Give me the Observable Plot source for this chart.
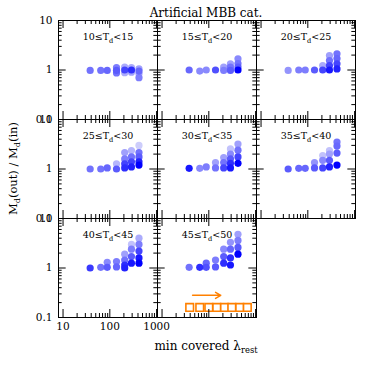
<!DOCTYPE html>
<html><head><meta charset="utf-8">
<script src="https://cdn.jsdelivr.net/npm/d3@7"></script>
<script src="https://cdn.jsdelivr.net/npm/@observablehq/plot@0.6"></script>
<style>body{margin:0;background:#fff} #chart{width:374px;height:374px}</style>
</head><body><div id="chart"></div>
<script>
// ---- data ----
const panelLabels = ["10≤T_d<15","15≤T_d<20","20≤T_d<25","25≤T_d<30","30≤T_d<35","35≤T_d<40","40≤T_d<45","45≤T_d<50"];
const columnLambda = [38, 64, 88, 139, 208, 290, 420];
// each point: [column index, Md(out)/Md(in), shade 0..1]
const panel1 = [[0,0.98,.5],[1,0.98,.5],[2,0.98,.55],[3,1.12,.45],[3,0.87,.5],[3,0.98,.6],[4,1.15,.25],[4,0.88,.25],[4,1.0,.7],[5,1.12,.25],[5,0.9,.3],[5,1.0,.8],[6,1.05,.3],[6,0.85,.3],[6,0.7,.45],[6,0.95,.55]];
const panel2 = [[0,1.0,.55],[1,0.95,.4],[2,1.0,.4],[3,1.0,.65],[4,1.14,.3],[4,0.98,.45],[5,1.33,.3],[5,1.14,.5],[5,0.98,.6],[6,1.68,.4],[6,1.35,.5],[6,1.15,.6],[6,1.0,1.0]];
const panel3 = [[0,0.98,.35],[1,1.0,.45],[2,1.0,.45],[3,1.0,.6],[4,1.23,.25],[4,1.0,.7],[5,1.96,.3],[5,1.55,.5],[5,1.23,.7],[5,1.0,.9],[6,2.12,.5],[6,1.7,.55],[6,1.33,.7],[6,1.05,.85]];
const panel4 = [[0,1.0,.5],[1,1.0,.5],[2,1.05,.55],[3,1.27,.2],[3,1.0,.6],[4,2.15,.3],[4,1.6,.45],[4,1.27,.7],[4,1.05,.8],[5,2.36,.2],[5,1.75,.5],[5,1.4,.7],[5,1.1,.85],[6,3.0,.1],[6,2.15,.5],[6,1.75,.6],[6,1.4,.85],[6,1.2,1.0]];
const panel5 = [[0,1.03,.9],[1,1.03,.4],[2,1.1,.45],[3,1.35,.3],[3,1.05,.5],[4,1.7,.3],[4,1.35,.5],[4,1.05,.7],[5,2.55,.15],[5,2.0,.4],[5,1.6,.6],[5,1.3,.8],[5,1.05,.9],[6,3.2,.3],[6,2.4,.5],[6,1.75,.7],[6,1.3,1.0]];
const panel6 = [[0,1.0,.6],[1,1.03,.55],[2,1.03,.55],[3,1.35,.35],[3,1.05,.6],[4,1.87,.15],[4,1.5,.4],[4,1.05,.7],[5,2.36,.15],[5,2.0,.3],[5,1.5,.6],[5,1.1,.85],[6,3.5,.5],[6,2.9,.55],[6,2.1,.6],[6,1.2,1.0]];
const panel7 = [[0,1.0,.75],[1,1.03,.5],[2,1.3,.4],[2,1.03,.6],[3,1.35,.45],[3,1.05,.55],[4,1.9,.3],[4,1.45,.5],[4,1.15,.8],[4,1.0,.85],[5,3.0,.15],[5,2.4,.45],[5,1.7,.6],[5,1.25,.9],[6,4.0,.25],[6,3.0,.45],[6,2.2,.7],[6,1.6,.9],[6,1.25,1.0]];
const panel8 = [[0,1.03,.5],[1,1.03,.8],[2,1.25,.55],[2,1.03,.65],[3,1.45,.45],[3,1.05,.6],[4,2.4,.4],[4,1.7,.6],[4,1.25,.8],[5,3.3,.35],[5,2.4,.55],[5,1.6,.8],[5,1.15,.9],[6,4.8,.3],[6,3.6,.45],[6,2.6,.6],[6,1.9,1.0]];
const panelPoints = [panel1, panel2, panel3, panel4, panel5, panel6, panel7, panel8];
const squareLambda = [39, 64, 100, 148, 217, 310, 458, 666];
const squareRatio = 0.16;
const arrowLambda = [45, 180];
const arrowRatio = 0.28;
const xMajor = [10, 100, 1000];
const xMinor = [20,30,40,50,60,70,80,90,200,300,400,500,600,700,800,900];
const yMajor = [0.1, 1, 10];
const yMinor = [0.2,0.3,0.4,0.5,0.6,0.7,0.8,0.9,2,3,4,5,6,7,8,9];
const xTickLabels = ["10", "100", "1000"];
const yTickLabels = ["0.1", "1", "10"];

// ---- layout ----
const W = 374, H = 374, mL = 57, mR = 19, mT = 20, mB = 57;
const bw = (W - mL - mR) / 3, bh = (H - mT - mB) / 3;
const FONT = "DejaVu Serif";

const panels = panelLabels.map((label, i) => ({label, col: i % 3, row: Math.floor(i / 3)}));
const points = panels.flatMap((p, i) => panelPoints[i].map(([c, r, s]) => ({lambda: columnLambda[c], ratio: r, shade: s, col: p.col, row: p.row})))
  .sort((a, b) => a.shade - b.shade);
const tickRows = vals => panels.flatMap(p => vals.map(v => ({v, col: p.col, row: p.row})));
const xTicks = (vals, len) => [
  Plot.tickX(tickRows(vals), {x: "v", fx: "col", fy: "row", insetTop: bh - len, stroke: "black"}),
  Plot.tickX(tickRows(vals), {x: "v", fx: "col", fy: "row", insetBottom: bh - len, stroke: "black"})
];
const yTicks = (vals, len) => [
  Plot.tickY(tickRows(vals), {y: "v", fx: "col", fy: "row", insetRight: bw - len, stroke: "black"}),
  Plot.tickY(tickRows(vals), {y: "v", fx: "col", fy: "row", insetLeft: bw - len, stroke: "black"})
];
const yLabelRows = [0, 1, 2].flatMap(row => yMajor.map((v, i) => ({v, t: yTickLabels[i], col: 0, row})));
const xLabelRows = xMajor.map((v, i) => ({v, t: xTickLabels[i], col: 0, row: 2}));
const squares = squareLambda.map(l => ({lambda: l, ratio: squareRatio, col: 1, row: 2}));
const arrows = [{x1: arrowLambda[0], x2: arrowLambda[1], y: arrowRatio, col: 1, row: 2}];

const chart = Plot.plot({
  width: W, height: H,
  marginLeft: mL, marginRight: mR, marginTop: mT, marginBottom: mB,
  style: {fontFamily: FONT, background: "white", color: "black"},
  x: {type: "log", domain: [8, 1045], axis: null},
  y: {type: "log", domain: [0.1, 10], axis: null},
  fx: {domain: [0, 1, 2], padding: 0, axis: null},
  fy: {domain: [0, 1, 2], padding: 0, axis: null},
  color: {type: "linear", domain: [0, 1], range: ["#e4e4fb", "#0000ff"]},
  marks: [
    Plot.dot(points, {x: "lambda", y: "ratio", fx: "col", fy: "row", fill: "shade", r: 3.6}),
    Plot.arrow(arrows, {x1: "x1", x2: "x2", y1: "y", y2: "y", fx: "col", fy: "row", stroke: "#ff8000", strokeWidth: 1.5, headLength: 6}),
    Plot.dot(squares, {x: "lambda", y: "ratio", fx: "col", fy: "row", symbol: "square", r: 4.3, stroke: "#ff8000", strokeWidth: 1.6, fill: "white"}),
    ...xTicks(xMajor, 8), ...xTicks(xMinor, 4),
    ...yTicks(yMajor, 8), ...yTicks(yMinor, 4),
    Plot.frame({stroke: "black"}),
    Plot.text(panels, {fx: "col", fy: "row", frameAnchor: "top", dy: 13, text: "label", fontSize: 9.5}),
    Plot.text(yLabelRows, {y: "v", fx: "col", fy: "row", frameAnchor: "left", dx: -6, textAnchor: "end", text: "t", fontSize: 10.5}),
    Plot.text(xLabelRows, {x: "v", fx: "col", fy: "row", frameAnchor: "bottom", dy: 12, text: "t", fontSize: 10.5})
  ]
});
document.getElementById("chart").appendChild(chart);

// subscripts in panel labels
const svg = d3.select(chart.tagName.toLowerCase() === "svg" ? chart : chart.querySelector("svg"));
svg.selectAll("text").each(function() {
  const s = this.textContent;
  if (s.includes("_d")) {
    const [a, b] = s.split("_d");
    const t = d3.select(this).text(null);
    t.append("tspan").text(a);
    t.append("tspan").attr("dy", 3).attr("font-size", "0.7em").text("d");
    t.append("tspan").attr("dy", -3).text(b);
  }
});
// title and axis labels
svg.append("text").attr("x", mL + 3 * bw / 2).attr("y", 13).attr("text-anchor", "middle")
  .attr("font-family", FONT).attr("font-size", 12).attr("dominant-baseline", "middle").text("Artificial MBB cat.");
const xl = svg.append("text").attr("x", mL + 3 * bw / 2).attr("y", 350).attr("text-anchor", "middle")
  .attr("font-family", FONT).attr("font-size", 12);
xl.append("tspan").text("min covered λ");
xl.append("tspan").attr("dy", 3).attr("font-size", "0.7em").text("rest");
const yl = svg.append("text").attr("transform", `translate(17,${mT + 3 * bh / 2}) rotate(-90)`).attr("text-anchor", "middle")
  .attr("font-family", FONT).attr("font-size", 11.5);
yl.append("tspan").text("M");
yl.append("tspan").attr("dy", 3).attr("font-size", "0.7em").text("d");
yl.append("tspan").attr("dy", -3).text("(out) / M");
yl.append("tspan").attr("dy", 3).attr("font-size", "0.7em").text("d");
yl.append("tspan").attr("dy", -3).text("(in)");
</script></body></html>
